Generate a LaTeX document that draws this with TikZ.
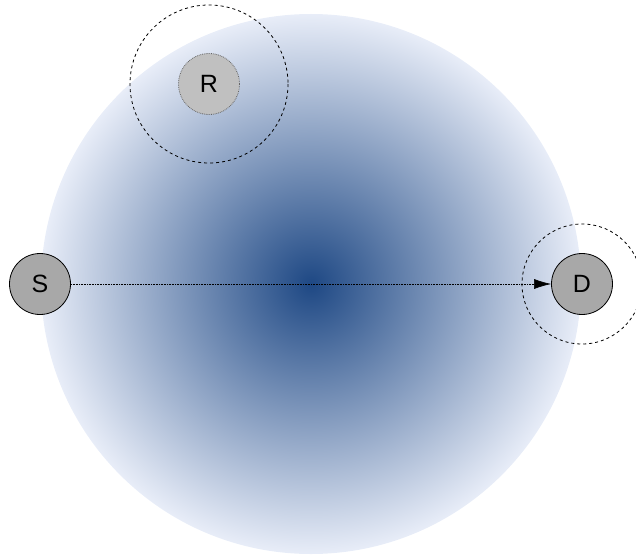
\documentclass[tikz,border=0pt]{standalone}
\usepackage{fontspec}
\setmainfont{Liberation Sans}
\usepackage{tikz}
\usetikzlibrary{arrows.meta}
\usepackage{xcolor}
\definecolor{fieldinner}{HTML}{1E4884}
\definecolor{fieldouter}{HTML}{E8EDF8}
\definecolor{termgray}{HTML}{A8A8A8}
\definecolor{relaygray}{HTML}{C0C0C0}

\begin{document}
\begin{tikzpicture}[
  x=1pt, y=-1pt,
  terminal/.style={circle, draw=black, line width=0.8pt, fill=termgray, minimum size=61pt, inner sep=0pt, font=\fontsize{25}{30}\selectfont},
  relay/.style={terminal, draw=black!60, densely dotted, fill=relaygray},
  coverring/.style={draw=black, dashed, line width=0.8pt},
  link/.style={-{Latex[length=17pt,width=10pt]}, densely dotted, line width=0.6pt}
]
\useasboundingbox (0,0) rectangle (636,559);
% coverage area
\shade[inner color=fieldinner, outer color=fieldouter] (311,284) circle (270);
\node[terminal] (s) at (40,284) {S};
\node[terminal] (d) at (582,284) {D};
\node[relay] (r) at (209,84) {R};
\draw[coverring] (r) circle (79);
\draw[coverring] (d) circle (60);
\draw[link] (s) -- (d);
\end{tikzpicture}
\end{document}
